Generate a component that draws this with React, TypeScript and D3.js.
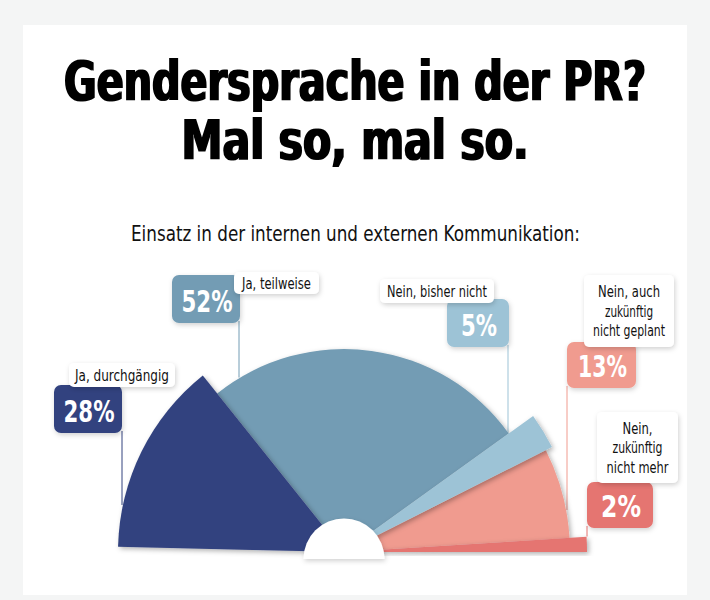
import React from 'react';
import * as d3 from 'd3';

// ---------- data ----------
const titleLines = ['Gendersprache in der PR?', 'Mal so, mal so.'];
const subtitle = 'Einsatz in der internen und externen Kommunikation:';
const categories = [
  'Ja, durchgängig',
  'Ja, teilweise',
  'Nein, bisher nicht',
  'Nein, auch zukünftig nicht geplant',
  'Nein, zukünftig nicht mehr',
];
const labelLines = [
  ['Ja, durchgängig'],
  ['Ja, teilweise'],
  ['Nein, bisher nicht'],
  ['Nein, auch', 'zukünftig', 'nicht geplant'],
  ['Nein,', 'zukünftig', 'nicht mehr'],
];
const shares = [28, 52, 5, 13, 2];
const pctLabels = ['28%', '52%', '5%', '13%', '2%'];

// ---------- style / layout ----------
const W = 710;
const H = 600;
const colors = ['#32427f', '#739cb4', '#9dc3d6', '#f09b8f', '#e57471'];
const outerR = [226, 203, 233, 226, 243];
const cx = 344;
const cy = 552;
const drawOrder = [1, 3, 0, 2, 4];

type Box = { x: number; y: number; w: number; h: number };
const pctBoxes: Box[] = [
  { x: 54, y: 385, w: 68, h: 48 },
  { x: 172, y: 275, w: 68, h: 48 },
  { x: 447, y: 299, w: 62, h: 48 },
  { x: 567, y: 342, w: 69, h: 46 },
  { x: 587, y: 482, w: 66, h: 46 },
];
const pctTextW = [51, 51, 36, 49, 40];
const labelBoxes: Box[] = [
  { x: 69, y: 363, w: 106, h: 24 },
  { x: 234, y: 272, w: 85, h: 22 },
  { x: 380, y: 279, w: 114, h: 24 },
  { x: 584, y: 275, w: 90, h: 72 },
  { x: 597, y: 412, w: 81, h: 71 },
];
const labelTextW = [[94], [69], [100], [62, 48, 72], [30, 50, 62]];
const leaderX = [122, 239, 508, 567, 587];

const FONT = "'DejaVu Sans Condensed', 'DejaVu Sans', sans-serif";

export default function App() {
  const pie = d3
    .pie<number>()
    .sort(null)
    .startAngle(-Math.PI / 2 + (1.3 * Math.PI) / 180)
    .endAngle(Math.PI / 2);
  const arcs = pie(shares);
  const arcGen = d3.arc<d3.PieArcDatum<number>>().innerRadius(0);

  const leaderEnd = (i: number) => {
    const a = arcs[i];
    const x = leaderX[i];
    const b = pctBoxes[i];
    for (let y = b.y + b.h; y <= cy; y += 0.5) {
      const dx = x - cx;
      const dy = y - cy;
      const r = Math.hypot(dx, dy);
      const th = Math.atan2(dx, -dy);
      if (th >= a.startAngle - 0.002 && th <= a.endAngle + 0.002 && r <= outerR[i] + 1) return y;
    }
    return cy;
  };

  const whiteSemi = d3
    .arc()
    .innerRadius(0)
    .outerRadius(40.5)
    .startAngle(-Math.PI / 2)
    .endAngle(Math.PI / 2)({} as any) as string;

  const titleW = [582, 347];
  const titleY = [100, 159];
  const titleScaleY = 1.85;

  return (
    <svg
      width={W}
      height={H}
      style={{ position: 'absolute', left: 0, top: 0, display: 'block' }}
      fontFamily={FONT}
    >
      <defs>
        <filter id="sliceShadow" x="-20%" y="-20%" width="140%" height="140%">
          <feDropShadow dx="2" dy="2" stdDeviation="2.5" floodColor="#000" floodOpacity="0.3" />
        </filter>
        <filter id="boxShadow" x="-30%" y="-30%" width="160%" height="160%">
          <feDropShadow dx="1" dy="2" stdDeviation="2.5" floodColor="#000" floodOpacity="0.18" />
        </filter>
        <filter id="heavy" x="-5%" y="-20%" width="110%" height="140%">
          <feMorphology operator="dilate" radius="1.3 0.2" />
        </filter>
      </defs>
      <rect x={0} y={0} width={W} height={H} fill="#f4f5f5" />
      <rect x={23} y={25} width={664} height={570} fill="#ffffff" />

      {/* titles */}
      {titleLines.map((t, i) => (
        <g key={t} transform={`translate(355,${titleY[i]}) scale(1,${titleScaleY})`} filter="url(#heavy)">
          <text
            x={0}
            y={0}
            textAnchor="middle"
            fontFamily="'DejaVu Sans', sans-serif"
            fontWeight={700}
            fontSize={30}
            fill="#000"
            textLength={titleW[i]}
            lengthAdjust="spacingAndGlyphs"
          >
            {t}
          </text>
        </g>
      ))}
      <text
        x={355.5}
        y={241}
        textAnchor="middle"
        fontSize={22}
        fill="#111"
        textLength={449}
        lengthAdjust="spacingAndGlyphs"
      >
        {subtitle}
      </text>

      {/* leader lines */}
      {categories.map((c, i) => (
        <line
          key={'l' + c}
          x1={leaderX[i]}
          x2={leaderX[i]}
          y1={pctBoxes[i].y + pctBoxes[i].h - 2}
          y2={leaderEnd(i)}
          stroke={colors[i]}
          strokeWidth={1}
        />
      ))}

      {/* slices */}
      {drawOrder.map((i) => (
        <path
          key={'s' + i}
          d={arcGen.outerRadius(outerR[i])(arcs[i]) as string}
          transform={`translate(${cx},${cy})`}
          fill={colors[i]}
          filter="url(#sliceShadow)"
        />
      ))}
      <path d={whiteSemi} transform={`translate(${cx},${cy + 7})`} fill="#fff" filter="url(#boxShadow)" />

      {/* percentage boxes */}
      {categories.map((c, i) => {
        const b = pctBoxes[i];
        return (
          <g key={'p' + c}>
            <rect x={b.x} y={b.y} width={b.w} height={b.h} rx={7} fill={colors[i]} filter="url(#boxShadow)" />
            <text
              x={b.x + b.w / 2 + 1}
              y={b.y + b.h * 0.77}
              textAnchor="middle"
              fontFamily="'DejaVu Sans', sans-serif"
              fontWeight={700}
              fontSize={31}
              fill="#fff"
              textLength={pctTextW[i]}
              lengthAdjust="spacingAndGlyphs"
            >
              {pctLabels[i]}
            </text>
          </g>
        );
      })}

      {/* label boxes */}
      {categories.map((c, i) => {
        const b = labelBoxes[i];
        const lines = labelLines[i];
        const lh = 19.5;
        const cap = 11.5;
        const first = b.y + b.h / 2 - ((lines.length - 1) * lh) / 2 + cap / 2;
        return (
          <g key={'b' + c}>
            <rect x={b.x} y={b.y} width={b.w} height={b.h} rx={5} fill="#fff" filter="url(#boxShadow)" />
            {lines.map((ln, j) => (
              <text
                key={ln + j}
                x={b.x + b.w / 2}
                y={first + j * lh}
                textAnchor="middle"
                fontSize={16}
                fill="#111"
                textLength={labelTextW[i][j]}
                lengthAdjust="spacingAndGlyphs"
              >
                {ln}
              </text>
            ))}
          </g>
        );
      })}
    </svg>
  );
}
